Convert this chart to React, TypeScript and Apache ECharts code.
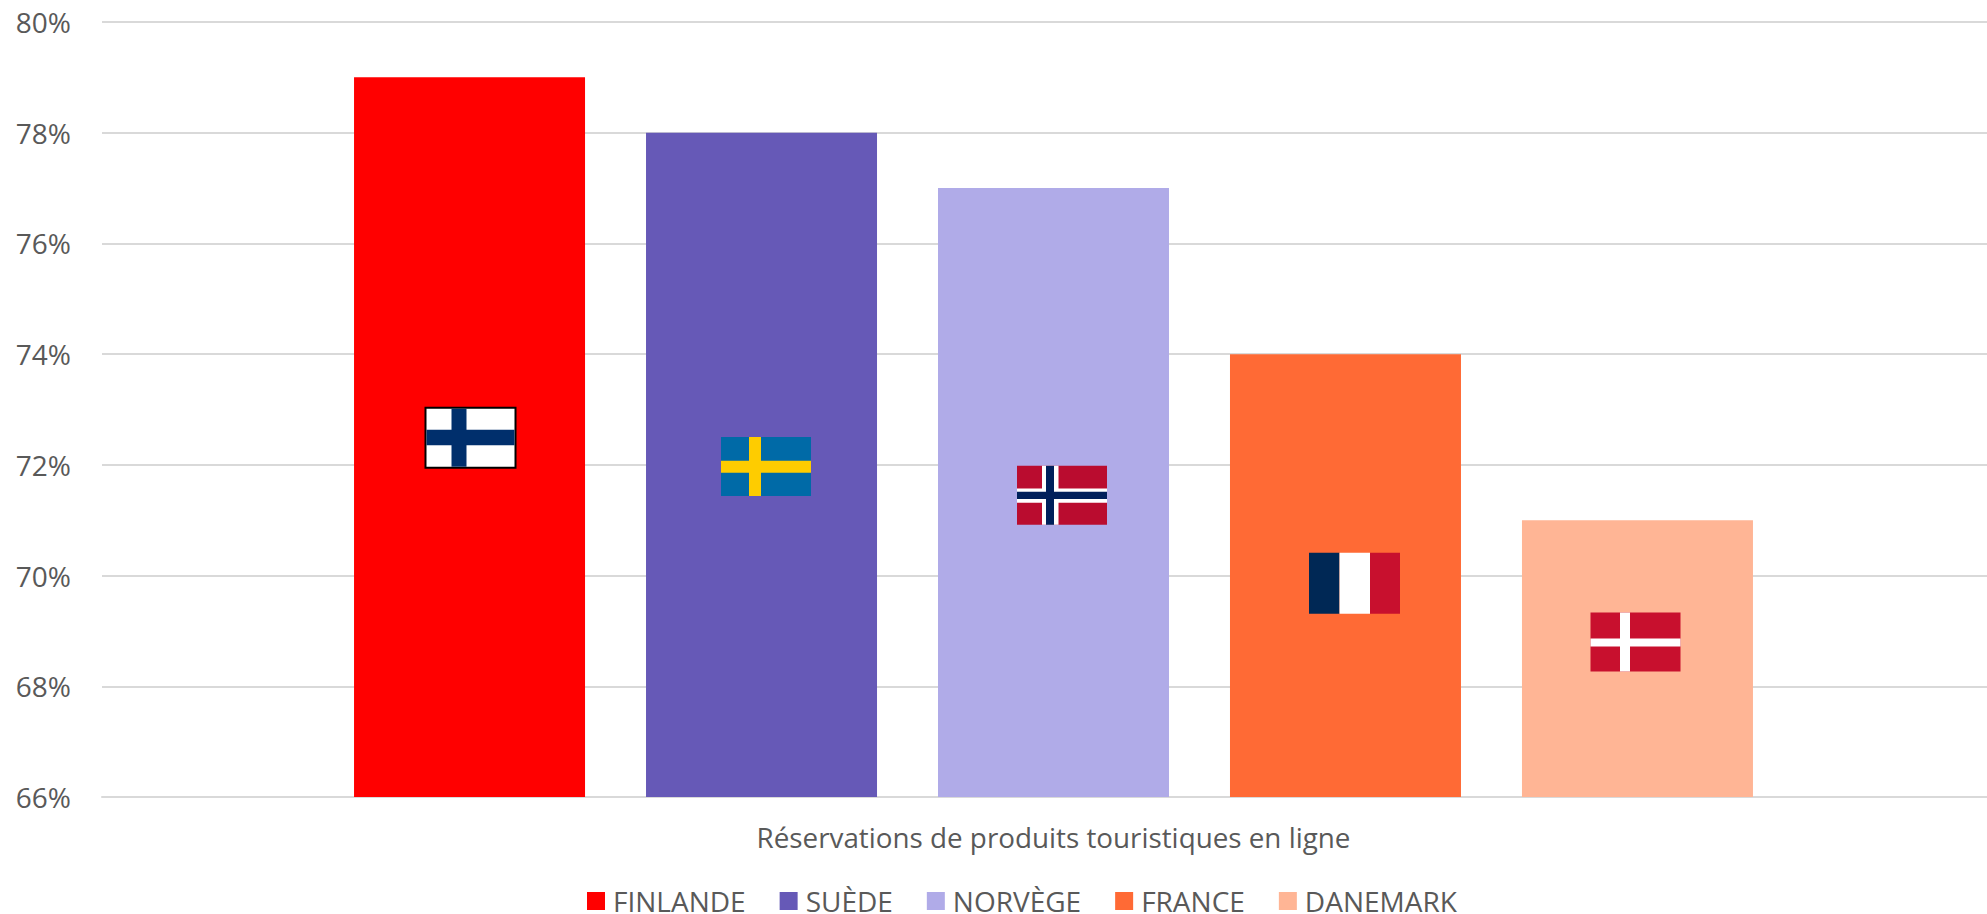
import React, { useEffect, useRef } from "react";
import * as echarts from "echarts";

const categories = ["Réservations de produits touristiques en ligne"];
const countries = ["FINLANDE", "SUÈDE", "NORVÈGE", "FRANCE", "DANEMARK"];
const values = [79, 78, 77, 74, 71];
const colors = ["#FF0000", "#6659B7", "#B0ABE8", "#FF6A35", "#FFB595"];
const flagLevels = [72.49, 71.97, 71.45, 69.86, 68.8];
const flagShift = [1, 4.5, 8.5, 9, -2];
const STEP = 292;

type R = [number, number, number, number, string];
const FI = "#002F6C", SE = "#006AA7", SY = "#FECC00", NR = "#BA0C2F", NB = "#00205B", W = "#FFFFFF", DK = "#C8102E";
const flags: { w: number; h: number; rects: R[] }[] = [
  { w: 92, h: 62, rects: [[0, 0, 92, 62, "#000000"], [2, 2, 88, 58, W], [27, 2, 15, 58, FI], [2, 23, 88, 15.5, FI]] },
  { w: 90, h: 59, rects: [[0, 0, 90, 59, SE], [28, 0, 12, 59, SY], [0, 23.7, 90, 12, SY]] },
  { w: 90, h: 59, rects: [[0, 0, 90, 59, NR], [25, 0, 16.5, 59, W], [0, 22.7, 90, 14.3, W], [29, 0, 8, 59, NB], [0, 26, 90, 7.3, NB]] },
  { w: 91, h: 61, rects: [[0, 0, 30.5, 61, "#002855"], [30.5, 0, 30.5, 61, W], [61, 0, 30, 61, DK]] },
  { w: 90, h: 59, rects: [[0, 0, 90, 59, DK], [29.5, 0, 10, 59, W], [0, 26, 90, 8, W]] },
];

const FONT = "'Open Sans', sans-serif";
const GREY = "#595959";

export default function App() {
  const ref = useRef<HTMLDivElement>(null);
  useEffect(() => {
    document.body.style.margin = "0";
    const chart = echarts.init(ref.current!, undefined, { renderer: "svg" });
    const barSeries = countries.map((name, i) => ({
      name,
      type: "bar",
      data: [values[i]],
      barWidth: 231,
      barGap: "26.4%",
      itemStyle: { color: colors[i] },
    }));
    const flagSeries = {
      type: "custom",
      silent: true,
      z: 10,
      data: flagLevels.map((v) => [0, v]),
      encode: { x: 0, y: 1 },
      renderItem: (params: any, api: any) => {
        const i = params.dataIndex;
        const c = api.coord([0, api.value(1)]);
        const f = flags[i];
        const x0 = c[0] + (i - 2) * STEP + flagShift[i] - f.w / 2;
        const y0 = c[1] - f.h / 2;
        return {
          type: "group",
          children: f.rects.map((r) => ({
            type: "rect",
            shape: { x: x0 + r[0], y: y0 + r[1], width: r[2], height: r[3] },
            style: { fill: r[4] },
          })),
        };
      },
    };
    chart.setOption({
      animation: false,
      backgroundColor: "#FFFFFF",
      grid: { left: 102, right: 0, top: 22, bottom: 117, containLabel: false },
      legend: {
        data: countries,
        left: 587,
        top: 887,
        padding: 0,
        icon: "rect",
        itemWidth: 18,
        itemHeight: 18,
        itemGap: 34,
        textStyle: { fontFamily: FONT, fontSize: 28, lineHeight: 24, color: GREY, padding: [0, 0, 4, 3] },
      },
      xAxis: {
        type: "category",
        data: categories,
        axisLine: { lineStyle: { color: "#D9D9D9", width: 2 } },
        axisTick: { show: false },
        axisLabel: { fontFamily: FONT, fontSize: 27.8, color: GREY, margin: 26 },
      },
      yAxis: {
        type: "value",
        min: 66,
        max: 80,
        interval: 2,
        axisLine: { show: false },
        axisTick: { show: false },
        axisLabel: { formatter: "{value}%", fontFamily: FONT, fontSize: 28, color: GREY, margin: 31 },
        splitLine: { lineStyle: { color: "#D9D9D9", width: 2 } },
      },
      series: [...barSeries, flagSeries],
    });
    return () => chart.dispose();
  }, []);
  return (
    <div style={{ width: 1987, height: 914, overflow: "hidden" }}>
      <div ref={ref} style={{ width: 2005, height: 914 }} />
    </div>
  );
}
